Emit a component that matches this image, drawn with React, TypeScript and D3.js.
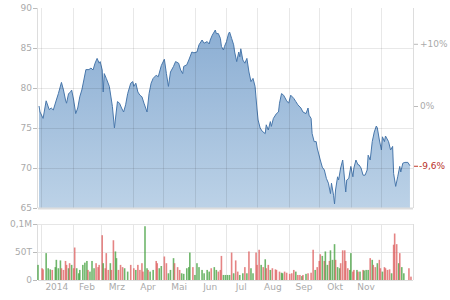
import React from "react";
import * as d3 from "d3";

// ---- DATA ----
// Price: day offset from 2014-01-01 and closing price
const priceDays = [-2,-1,2,5,8,10,12,15,17,20,22,24,25,27,29,30,32,34,36,38,40,42,44,47,49,51,53,55,57,58,60,61,62,64,67,70,72,74,75,77,79,81,83,85,88,90,91,93,95,97,99,101,104,106,108,110,113,115,118,121,123,125,127,130,132,135,137,139,140,143,145,148,150,153,155,158,160,163,165,166,168,171,172,174,176,177,179,180,182,184,185,187,189,190,192,194,195,196,198,200,202,204,206,208,210,212,213,215,217,220,221,223,225,226,228,231,233,234,236,238,241,243,245,248,250,252,255,257,260,262,263,265,266,268,270,271,274,276,278,280,282,284,285,287,288,289,291,292,294,296,297,299,300,302,304,306,307,309,311,312,314,316,318,320,321,323,325,327,329,330,332,334,335,337,338,341,343,345,346,348,350,352,353,355,357,360,362];
const priceValues = [77.75,77.0,76.2,78.4,77.3,77.5,77.25,78.5,79.3,80.7,79.75,78.5,78.1,79.3,79.5,79.75,78.5,76.8,77.5,78.9,79.75,81.0,82.3,82.3,82.5,82.25,83.1,83.7,83.1,83.3,82.25,79.5,81.8,81.2,80.2,77.7,75.0,77.25,78.3,78.1,77.5,77.0,77.9,79.3,80.6,80.8,80.2,80.6,79.5,79.1,78.9,78.1,77.0,79.3,80.6,81.2,81.6,81.4,82.8,83.6,81.8,80.2,82.0,82.7,83.3,83.1,82.25,81.8,82.7,82.9,83.5,84.5,84.4,84.5,85.4,86.0,85.6,85.8,85.5,86.0,86.6,87.25,86.8,86.8,86.2,85.2,84.75,85.2,85.8,86.8,87.0,86.2,85.4,84.5,83.3,84.5,83.9,84.9,83.5,83.1,83.7,82.0,80.8,81.2,80.2,77.25,76.0,75.0,74.6,74.3,75.4,74.75,75.8,75.2,76.2,76.8,77.0,78.1,79.3,79.1,78.4,78.1,79.1,78.7,78.3,77.9,77.5,77.0,76.8,77.5,76.6,76.2,74.3,73.3,73.3,72.5,71.0,70.1,69.75,68.7,68.1,66.8,68.1,66.6,65.5,67.25,68.9,68.5,70.0,71.0,69.75,67.0,68.5,68.7,70.2,68.9,70.0,71.0,70.4,70.4,70.0,69.1,69.1,69.75,71.6,71.0,73.3,74.5,75.25,75.0,73.5,72.25,73.9,73.3,74.0,73.3,72.25,72.7,69.3,67.7,68.9,70.2,69.5,70.6,70.7,70.7,70.28];

// Volume: day offset, volume (thousands), up day (1) / down day (0)
const volDays = [-3,1,2,5,7,9,11,14,15,17,19,20,22,24,25,27,28,30,32,33,35,37,38,41,43,45,46,48,50,52,54,56,57,60,61,63,64,66,68,69,71,73,74,76,78,80,82,85,88,91,93,95,97,99,100,102,104,105,107,110,113,114,116,118,121,123,125,127,130,131,134,136,138,140,143,145,146,149,151,153,155,158,160,163,165,167,170,172,174,176,177,179,181,183,185,187,189,191,193,195,198,200,202,204,206,208,211,212,214,216,218,220,221,223,225,227,230,231,234,236,237,239,241,244,246,248,250,252,254,256,257,260,262,265,267,269,271,273,274,276,278,279,281,283,284,286,288,289,291,293,294,296,298,299,301,303,304,306,307,310,311,313,316,317,319,321,323,325,326,328,330,332,333,335,337,338,340,342,344,346,347,349,351,352,354,356,361,363];
const volValues = [27,21,19,48,21,19,18,23,36,21,35,21,18,34,27,21,30,27,21,58,21,12,18,27,31,34,18,15,34,21,30,23,27,80,30,21,48,18,30,18,71,51,39,18,27,23,21,15,27,21,18,27,18,30,15,96,21,18,15,18,34,30,21,25,42,30,12,18,39,30,23,18,12,11,21,23,49,23,9,30,23,18,12,18,15,21,23,18,15,18,43,9,9,9,9,49,12,35,15,9,12,23,12,51,21,12,49,27,54,27,23,37,21,27,18,21,19,18,15,13,12,15,13,11,12,18,15,9,9,7,9,11,12,13,54,18,23,34,46,43,34,51,27,34,53,36,64,36,23,21,30,53,53,34,21,18,48,15,18,18,15,15,18,17,18,18,39,36,27,23,30,36,21,15,23,21,18,19,12,63,83,64,30,48,23,12,21,6];
const volUp = [1,0,0,1,1,1,0,1,1,1,1,0,0,0,0,1,0,1,0,0,1,1,1,1,1,1,0,1,1,1,0,0,0,0,1,0,0,0,1,0,0,1,1,0,0,0,1,1,0,0,1,0,0,0,0,1,1,0,1,1,0,0,1,1,0,0,1,1,1,0,0,0,1,1,1,1,1,0,1,1,1,1,1,1,1,0,1,1,0,0,0,1,1,1,1,0,1,0,0,1,1,0,1,0,1,1,0,0,0,1,0,1,0,0,1,0,0,0,0,1,1,0,0,0,0,0,1,0,0,1,0,1,0,0,0,1,0,0,0,1,0,1,1,0,1,1,1,0,1,1,0,0,0,0,0,1,1,0,0,1,0,1,0,1,1,1,0,1,0,0,1,0,0,1,0,0,0,0,1,0,0,0,1,0,1,1,0,0];

// Axis ticks
const priceTicks = [65, 70, 75, 80, 85, 90];
const volTicks = [0, 50000, 100000];
const volTickLabels = ["0", "50T", "0,1M"];
const monthLabels = ["2014", "Feb", "Mrz", "Apr", "Mai", "Jun", "Jul", "Aug", "Sep", "Okt", "Nov"];
const pctTicks = [10, 0];
const lastPctLabel = "-9,6%";

const dayToDate = (d: number) => new Date(2014, 0, 1 + d);

export default function App() {
  const W = 450, H = 300;
  const left = 38, right = 413;
  const pTop = 8, pBottom = 208;
  const vTop = 224, vBottom = 280;

  const x = d3.scaleTime()
    .domain([new Date(2013, 11, 29), new Date(2015, 0, 1)])
    .range([left, right]);
  const y = d3.scaleLinear().domain([65, 90]).range([pBottom, pTop]);
  const yv = d3.scaleLinear().domain([0, 100000]).range([vBottom, vTop]);

  const refPrice = priceValues[0];
  const lastPrice = priceValues[priceValues.length - 1];

  const pts = priceDays.map((d, i) => [x(dayToDate(d)), priceValues[i]] as [number, number]);
  const area = d3.area<[number, number]>()
    .x((p) => p[0]).y0(pBottom).y1((p) => y(p[1]));
  const line = d3.line<[number, number]>().x((p) => p[0]).y((p) => y(p[1]));

  const months = d3.range(0, 13).map((m) => new Date(2014, m, 1));
  const monthStarts = months.slice(0, 12);

  const font = "DejaVu Sans, Verdana, sans-serif";
  const txt = "#aaa";
  const grid = "rgba(0,0,0,0.09)";

  return (
    <svg width={W} height={H} style={{ position: "absolute", left: 0, top: 0 }} fontFamily={font} fontSize={9}>
      <defs>
        <linearGradient id="fillg" gradientUnits="userSpaceOnUse" x1="0" y1={pTop} x2="0" y2={pBottom}>
          <stop offset="0%" stopColor="#86aad1" />
          <stop offset="100%" stopColor="#bcd2e7" />
        </linearGradient>
      </defs>
      <rect width={W} height={H} fill="#fff" />

      {/* price area */}
      <path d={area(pts) || ""} fill="url(#fillg)" />
      <path d={line(pts) || ""} fill="none" stroke="#4877ab" strokeWidth={1} />

      {/* price grid */}
      {priceTicks.filter((t) => t > 65 && t < 90).map((t) => (
        <line key={"pg" + t} x1={left} x2={right} y1={y(t) + 0.5} y2={y(t) + 0.5} stroke={grid} />
      ))}
      {monthStarts.map((m, i) => (
        <line key={"vg" + i} x1={Math.round(x(m)) + 0.5} x2={Math.round(x(m)) + 0.5} y1={pTop} y2={pBottom} stroke={grid} />
      ))}
      <line x1={right + 0.5} x2={right + 0.5} y1={pTop} y2={pBottom} stroke="#ddd" />
      <line x1={left - 0.5} x2={left - 0.5} y1={pTop} y2={pBottom} stroke="#ddd" />
      <line x1={left} x2={right} y1={pBottom + 0.5} y2={pBottom + 0.5} stroke="#ddd" strokeWidth={2} />

      {/* left price axis */}
      {priceTicks.map((t) => (
        <g key={"pt" + t}>
          <line x1={left - 5} x2={left - 1} y1={y(t) + 0.5} y2={y(t) + 0.5} stroke="#bbb" />
          <text x={left - 6} y={y(t)} dy="0.35em" textAnchor="end" fill={txt}>{t}</text>
        </g>
      ))}

      {/* right percent axis */}
      {pctTicks.map((p) => {
        const yy = y(refPrice * (1 + p / 100));
        return (
          <g key={"pc" + p}>
            <line x1={right + 1} x2={right + 5} y1={yy + 0.5} y2={yy + 0.5} stroke="#bbb" />
            <text x={right + 7} y={yy} dy="0.35em" fill={txt}>{(p > 0 ? "+" : "") + p + "%"}</text>
          </g>
        );
      })}
      <g>
        <line x1={right + 1} x2={right + 5} y1={y(lastPrice) + 0.5} y2={y(lastPrice) + 0.5} stroke="#c0392b" />
        <text x={right + 6} y={y(lastPrice)} dy="0.35em" fill="#b8312a">{lastPctLabel}</text>
      </g>

      {/* volume panel */}
      {volTicks.map((t) => (
        <line key={"vgl" + t} x1={left} x2={right} y1={Math.round(yv(t)) + 0.5} y2={Math.round(yv(t)) + 0.5} stroke={t === 0 ? "#ddd" : "#e6e6e6"} />
      ))}
      {monthStarts.map((m, i) => (
        <line key={"vvg" + i} x1={Math.round(x(m)) + 0.5} x2={Math.round(x(m)) + 0.5} y1={vTop} y2={vBottom} stroke="#e6e6e6" />
      ))}
      <line x1={right + 0.5} x2={right + 0.5} y1={vTop} y2={vBottom} stroke="#ddd" />
      <line x1={left - 0.5} x2={left - 0.5} y1={vTop} y2={vBottom} stroke="#ddd" />
      {volDays.map((d, i) => {
        const bx = x(dayToDate(d));
        const top = yv(volValues[i] * 1000);
        return (
          <rect key={"vb" + i} x={bx - 0.8} y={top} width={1.6} height={vBottom - top}
            fill={volUp[i] ? "#3f9e3a" : "#dc5b5b"} fillOpacity={0.75} />
        );
      })}
      {volTicks.map((t, i) => (
        <g key={"vt" + t}>
          <line x1={left - 5} x2={left - 1} y1={Math.round(yv(t)) + 0.5} y2={Math.round(yv(t)) + 0.5} stroke="#bbb" />
          <text x={left - 6} y={yv(t)} dy="0.35em" textAnchor="end" fill={txt}>{volTickLabels[i]}</text>
        </g>
      ))}

      {/* month labels */}
      {monthLabels.map((lab, i) => {
        const cx = (x(months[i]) + x(months[i + 1])) / 2;
        return (
          <text key={"ml" + i} x={cx} y={290} textAnchor="middle" fill={txt}>{lab}</text>
        );
      })}
    </svg>
  );
}
